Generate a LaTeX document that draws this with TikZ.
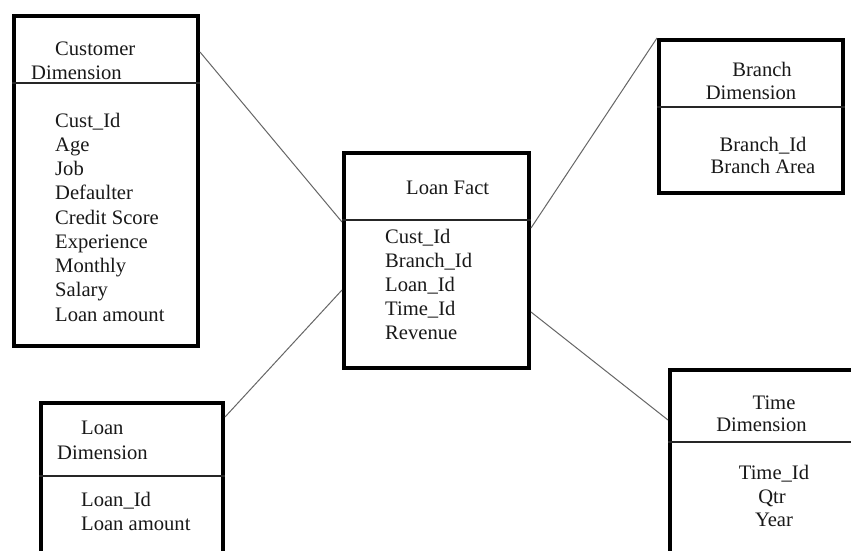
\documentclass[tikz,border=0pt]{standalone}
\usepackage{fontspec}
\setmainfont{Liberation Serif}
\usetikzlibrary{calc}
\begin{document}
\begin{tikzpicture}[x=1pt,y=-1pt,
  tbl/.style={draw=black, line width=4pt, inner sep=0pt, fill=white},
  sepline/.style={line width=1.2pt, draw=black!85},
  link/.style={draw=black!60, line width=1pt},
  txt/.style={inner sep=0pt, font=\fontsize{20.6}{24}\selectfont, anchor=base west, text=black!90},
  ctxt/.style={txt, anchor=base}]
\clip (0,0) rectangle (851,550);
\useasboundingbox (0,0) rectangle (851,550);
\fill[white] (0,0) rectangle (851,550);

% boxes
\node[tbl, minimum width=184pt, minimum height=330pt] (cust) at (106,181) {};
\node[tbl, minimum width=185pt, minimum height=215pt] (fact) at (436.5,260.5) {};
\node[tbl, minimum width=184pt, minimum height=153pt] (branch) at (751,116.5) {};
\node[tbl, minimum width=182pt, minimum height=177pt] (loan) at (132,491.5) {};
\node[tbl, minimum width=220pt, minimum height=210pt] (time) at (780,475) {};

% dividers
\draw[sepline] ($(cust.north west)+(0,69)$) -- ($(cust.north east)+(0,69)$);
\draw[sepline] ($(fact.north west)+(0,69)$) -- ($(fact.north east)+(0,69)$);
\draw[sepline] ($(branch.north west)+(0,69)$) -- ($(branch.north east)+(0,69)$);
\draw[sepline] ($(loan.north west)+(0,75)$) -- ($(loan.north east)+(0,75)$);
\draw[sepline] ($(time.north west)+(0,74)$) -- ($(time.north east)+(0,74)$);

% connectors
\draw[link] ($(cust.north east)+(0,38)$) -- ($(fact.north west)+(0,71)$);
\draw[link] ($(loan.north east)+(0,16)$) -- ($(fact.north west)+(0,139)$);
\draw[link] (branch.north west) -- ($(fact.north east)+(0,77)$);
\draw[link] ($(fact.north east)+(0,161)$) -- ($(time.north west)+(0,52)$);

% customer texts
\node[txt] (custh1) at (55,55) {Customer};
\node[txt] (custh2) at (31,79) {Dimension};
\foreach \t [count=\i] in {Cust\_Id,Age,Job,Defaulter,Credit Score,Experience,Monthly,Salary,Loan amount}
  \node[txt] (ca\i) at (55,{127+24.25*(\i-1)}) {\t};

% fact texts
\node[txt] (facth) at (406,194) {Loan Fact};
\foreach \t [count=\i] in {Cust\_Id,Branch\_Id,Loan\_Id,Time\_Id,Revenue}
  \node[txt] (fa\i) at (385,{243+24*(\i-1)}) {\t};

% branch texts
\node[ctxt] (branchh1) at (762,76) {Branch};
\node[ctxt] (branchh2) at (751,99) {Dimension};
\node[ctxt] (ba1) at (763,151) {Branch\_Id};
\node[ctxt] (ba2) at (763,173) {Branch Area};

% loan texts
\node[txt] (loanh1) at (81,434) {Loan};
\node[txt] (loanh2) at (57,459) {Dimension};
\node[txt] (la1) at (81,506) {Loan\_Id};
\node[txt] (la2) at (81,530) {Loan amount};

% time texts
\node[ctxt] (timeh1) at (774,409) {Time};
\node[ctxt] (timeh2) at (761.5,431) {Dimension};
\node[ctxt] (ta1) at (774,479) {Time\_Id};
\node[ctxt] (ta2) at (772,503) {Qtr};
\node[ctxt] (ta3) at (774,526) {Year};
\end{tikzpicture}
\end{document}
